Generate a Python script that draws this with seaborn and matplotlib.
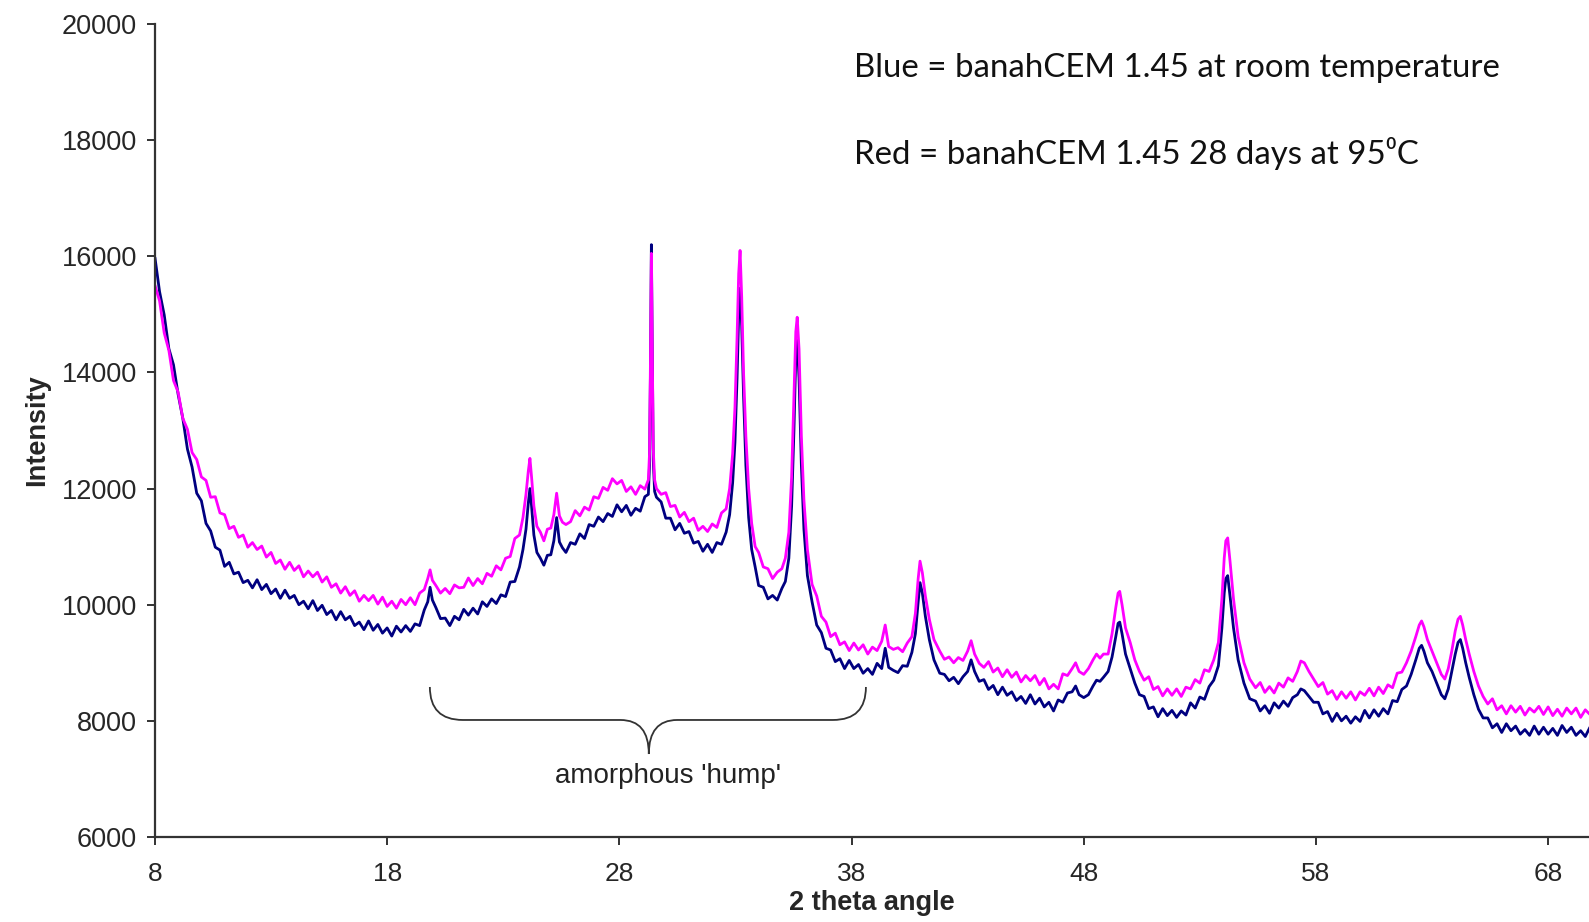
import pandas as pd
import seaborn as sns
import matplotlib.pyplot as plt
from matplotlib.path import Path
from matplotlib.patches import PathPatch

# 2 theta positions (degrees)
two_theta = [
    8.0, 8.2, 8.4, 8.6, 8.8, 9.0, 9.2, 9.4, 9.6, 9.8, 10.0, 10.2,
    10.4, 10.6, 10.8, 11.0, 11.2, 11.4, 11.6, 11.8, 12.0, 12.2, 12.4, 12.6,
    12.8, 13.0, 13.2, 13.4, 13.6, 13.8, 14.0, 14.2, 14.4, 14.6, 14.8, 15.0,
    15.2, 15.4, 15.6, 15.8, 16.0, 16.2, 16.4, 16.6, 16.8, 17.0, 17.2, 17.4,
    17.6, 17.8, 18.0, 18.2, 18.4, 18.6, 18.8, 19.0, 19.2, 19.4, 19.6,
    19.75, 19.85, 19.95, 20.1, 20.3, 20.5, 20.7, 20.9, 21.1,
    21.3, 21.5, 21.7, 21.9, 22.1, 22.3, 22.5, 22.7, 22.9, 23.1, 23.3, 23.5,
    23.7, 23.85, 23.98, 24.08, 24.15, 24.22, 24.32, 24.45, 24.6, 24.75, 24.9,
    25.05, 25.18, 25.3, 25.42, 25.55, 25.7,
    25.9, 26.1, 26.3, 26.5, 26.7, 26.9, 27.1, 27.3, 27.5, 27.7, 27.9, 28.1,
    28.3, 28.5, 28.7, 28.9, 29.1,
    29.25, 29.3, 29.34, 29.38, 29.42, 29.46, 29.52, 29.6,
    29.8, 30.0, 30.2, 30.4, 30.6, 30.8, 31.0, 31.2, 31.4, 31.6, 31.8, 32.0,
    32.2, 32.4,
    32.6, 32.75, 32.88, 32.98, 33.07, 33.14, 33.2, 33.27, 33.35, 33.45, 33.57,
    33.7, 33.85, 34.0, 34.2, 34.4, 34.6, 34.8, 35.0,
    35.15, 35.3, 35.42, 35.52, 35.6, 35.66, 35.74, 35.84, 35.95, 36.1, 36.3,
    36.5, 36.7, 36.9,
    37.1, 37.3, 37.5, 37.7, 37.9, 38.1, 38.3, 38.5, 38.7, 38.9, 39.1, 39.3,
    39.45, 39.6, 39.8,
    40.0, 40.2, 40.4, 40.6, 40.75, 40.87, 40.95, 41.05, 41.18, 41.35, 41.55, 41.8,
    42.0, 42.2, 42.4, 42.6, 42.8,
    43.0, 43.15, 43.3, 43.5,
    43.7, 43.9, 44.1, 44.3, 44.5, 44.7, 44.9, 45.1, 45.3, 45.5, 45.7, 45.9,
    46.1, 46.3, 46.5, 46.7, 46.9, 47.1, 47.3,
    47.5, 47.65, 47.8, 48.0, 48.2, 48.4, 48.55, 48.7, 48.85,
    49.05, 49.22, 49.38, 49.48, 49.55, 49.65, 49.8, 50.0, 50.2, 50.4,
    50.6, 50.8, 51.0, 51.2, 51.4, 51.6, 51.8, 52.0, 52.2, 52.4, 52.6, 52.8,
    53.0, 53.2, 53.4,
    53.6, 53.8, 53.95, 54.05, 54.12, 54.2, 54.3, 54.45, 54.65, 54.9, 55.15,
    55.4, 55.6, 55.8, 56.0, 56.2, 56.4, 56.6, 56.8, 57.0,
    57.2, 57.35, 57.5, 57.7, 57.9,
    58.1, 58.3, 58.5, 58.7, 58.9, 59.1, 59.3, 59.5, 59.7, 59.9, 60.1, 60.3,
    60.5, 60.7, 60.9, 61.1, 61.3, 61.5, 61.7,
    61.9, 62.1, 62.3, 62.45, 62.55, 62.65, 62.8, 63.0, 63.2, 63.4, 63.55, 63.7,
    63.85, 64.0, 64.12, 64.22, 64.32, 64.45, 64.6, 64.8, 65.0, 65.2,
    65.4, 65.6, 65.8, 66.0, 66.2, 66.4, 66.6, 66.8, 67.0, 67.2, 67.4, 67.6,
    67.8, 68.0, 68.2, 68.4, 68.6, 68.8, 69.0, 69.2, 69.4, 69.6, 69.8,
]

# banahCEM 1.45 at room temperature
blue_counts = [
    15980, 15390, 14990, 14410, 14130, 13620, 13210, 12680, 12370, 11920, 11790, 11400,
    11270, 10990, 10940, 10660, 10730, 10530, 10560, 10380, 10420, 10290, 10430, 10260,
    10350, 10190, 10270, 10110, 10250, 10110, 10160, 10000, 10060, 9930, 10070, 9900,
    9990, 9830, 9900, 9740, 9880, 9740, 9800, 9640, 9700, 9570, 9720, 9560,
    9660, 9510, 9600, 9460, 9630, 9530, 9640, 9540, 9670, 9640, 9910,
    10050, 10300, 10080, 9950, 9760, 9770, 9640, 9800, 9740,
    9920, 9820, 9940, 9840, 10050, 9970, 10100, 10020, 10170, 10140, 10390, 10400,
    10650, 10950, 11300, 11750, 12000, 11700, 11200, 10900, 10800, 10680, 10850,
    10860, 11100, 11500, 11080, 10980, 10900,
    11070, 11040, 11220, 11140, 11380, 11350, 11510, 11430, 11570, 11520, 11720, 11600,
    11710, 11540, 11660, 11610, 11860,
    11900, 12400, 14000, 16200, 14300, 12500, 11950, 11850,
    11770, 11490, 11490, 11290, 11400, 11230, 11260, 11060, 11090, 10920, 11040, 10900,
    11070, 11040,
    11250, 11550, 12100, 12800, 13900, 15000, 15450, 14800, 13600, 12400, 11500,
    10950, 10650, 10330, 10300, 10100, 10160, 10080, 10280,
    10400, 10800, 11700, 13000, 14300, 14550, 13900, 12400, 11300, 10500, 10050,
    9650, 9520, 9250,
    9220, 9020, 9070, 8900, 9040, 8900, 8970, 8820, 8900, 8800, 8990, 8900,
    9250, 8920, 8870,
    8830, 8950, 8940, 9180, 9500, 10050, 10380, 10200, 9800, 9400, 9050, 8820,
    8800, 8690, 8750, 8640, 8760,
    8850, 9050, 8850, 8680,
    8710, 8540, 8610, 8450, 8580, 8440, 8500, 8350, 8420, 8300, 8450, 8290,
    8390, 8240, 8320, 8170, 8360, 8320, 8480,
    8500, 8600, 8450, 8400, 8450, 8600, 8700, 8680, 8750,
    8850, 9100, 9450, 9680, 9700, 9500, 9150, 8900, 8650, 8450,
    8420, 8210, 8240, 8070, 8210, 8090, 8180, 8060, 8170, 8100, 8310, 8220,
    8410, 8370, 8590,
    8700, 8950, 9600, 10200, 10450, 10500, 10150, 9600, 9050, 8650, 8380,
    8340, 8170, 8260, 8130, 8310, 8220, 8340, 8250, 8400,
    8450, 8550, 8520, 8420, 8320,
    8320, 8120, 8160, 7990, 8130, 8000, 8080, 7960, 8070, 7990, 8180, 8050,
    8190, 8080, 8210, 8120, 8350, 8330, 8540,
    8600, 8800, 9050, 9250, 9300, 9200, 9000, 8850, 8650, 8450, 8380, 8550,
    8850, 9150, 9350, 9400, 9250, 9000, 8750, 8450, 8200, 8050,
    8050, 7880, 7950, 7800, 7950, 7830, 7910, 7770, 7850, 7750, 7910, 7770,
    7890, 7770, 7870, 7750, 7920, 7800, 7890, 7750, 7830, 7730, 7890,
]

# banahCEM 1.45 28 days at 95 C
red_counts = [
    15500, 15230, 14680, 14380, 13860, 13660, 13210, 13020, 12620, 12500, 12200, 12140,
    11850, 11860, 11580, 11550, 11310, 11350, 11160, 11200, 10990, 11070, 10950, 11010,
    10820, 10900, 10710, 10770, 10610, 10730, 10590, 10670, 10480, 10580, 10480, 10560,
    10390, 10480, 10300, 10360, 10200, 10310, 10160, 10240, 10060, 10160, 10070, 10160,
    10010, 10130, 9970, 10060, 9940, 10090, 10000, 10120, 10000, 10200, 10260,
    10450, 10600, 10420, 10330, 10200, 10280, 10190, 10340, 10290,
    10300, 10460, 10330, 10450, 10360, 10540, 10490, 10670, 10600, 10800, 10830, 11140,
    11200, 11500, 11900, 12300, 12520, 12200, 11700, 11350, 11250, 11100, 11300,
    11320, 11550, 11920, 11530, 11420, 11380,
    11430, 11620, 11530, 11680, 11630, 11860, 11830, 12020, 11970, 12170, 12080, 12140,
    11950, 12030, 11900, 12050, 11990,
    12150, 12600, 14200, 16050, 14400, 12700, 12150, 12000,
    11900, 11930, 11690, 11710, 11510, 11590, 11430, 11490, 11280, 11350, 11260, 11390,
    11330, 11580,
    11650, 12000, 12600, 13400, 14600, 15700, 16100, 15300, 14000, 12900, 12000,
    11400, 11000, 10900, 10650, 10620, 10450, 10560, 10620,
    10800, 11250, 12200, 13600, 14700, 14950, 14400, 12900, 11800, 10950, 10350,
    10150, 9800, 9700,
    9450, 9510, 9310, 9360, 9210, 9340, 9220, 9310, 9150, 9270, 9210, 9370,
    9650, 9280, 9230,
    9260, 9190, 9340, 9450, 9850, 10450, 10750, 10550, 10150, 9750, 9400, 9200,
    9060, 9100, 9000, 9090, 9040,
    9200, 9380, 9150, 8990,
    8920, 9020, 8840, 8910, 8760, 8880, 8750, 8840, 8670, 8780, 8690, 8780,
    8620, 8730, 8550, 8630, 8550, 8810, 8780,
    8900, 9000, 8850, 8800, 8900, 9050, 9150, 9080, 9150,
    9150, 9500, 9950, 10200, 10230, 10000, 9600, 9350, 9050, 8850,
    8700, 8760, 8540, 8590, 8430, 8550, 8440, 8550, 8420, 8580, 8550, 8710,
    8650, 8880, 8850,
    9050, 9350, 10100, 10800, 11100, 11150, 10750, 10100, 9450, 9000, 8720,
    8570, 8660, 8490, 8590, 8480, 8650, 8580, 8740, 8680,
    8850, 9030, 9000, 8850, 8720,
    8590, 8660, 8460, 8520, 8370, 8500, 8390, 8500, 8360, 8500, 8440, 8560,
    8430, 8580, 8470, 8620, 8570, 8820, 8840,
    9000, 9200, 9450, 9650, 9720, 9620, 9400, 9200, 9000, 8800, 8720, 8900,
    9200, 9550, 9750, 9800, 9650, 9400, 9150, 8850, 8600, 8420,
    8290, 8380, 8190, 8260, 8120, 8260, 8150, 8250, 8100, 8220, 8150, 8250,
    8110, 8240, 8090, 8200, 8080, 8220, 8120, 8220, 8060, 8190, 8110,
]

assert len(two_theta) == len(blue_counts) == len(red_counts)

x_ticks = [8, 18, 28, 38, 48, 58, 68]
y_ticks = [6000, 8000, 10000, 12000, 14000, 16000, 18000, 20000]

note_lines = ["Blue = banahCEM 1.45 at room temperature",
              "Red = banahCEM 1.45 28 days at 95\u2070C"]
hump_label = "amorphous 'hump'"

df = pd.DataFrame({"two_theta": two_theta, "blue": blue_counts, "red": red_counts})

sns.set_theme(style="white")
plt.rcParams["font.family"] = ["Liberation Sans", "DejaVu Sans"]

fig = plt.figure(figsize=(15.89, 9.22), dpi=100)
ax = fig.add_axes([0.0975, 0.0922, 0.9025, 0.8818])

sns.lineplot(data=df, x="two_theta", y="blue", color="#000080", lw=2.0,
             estimator=None, sort=False, ax=ax)
sns.lineplot(data=df, x="two_theta", y="red", color="#FF00FF", lw=2.0,
             estimator=None, sort=False, ax=ax)

ax.set_xlim(8, 69.76)
ax.set_ylim(6000, 20000)
ax.set_xticks(x_ticks)
ax.set_yticks(y_ticks)
ax.tick_params(axis="both", direction="out", length=6, width=1.3, color="#222222",
               left=True, bottom=True)
ax.tick_params(axis="y", labelsize=19.5, pad=7)
ax.tick_params(axis="x", labelsize=19, pad=12)
sns.despine(ax=ax)
for side in ["left", "bottom"]:
    ax.spines[side].set_color("#333333")
    ax.spines[side].set_linewidth(1.6)

ax.set_xlabel("2 theta angle", fontsize=19.5, fontweight="bold", labelpad=3)
ax.set_ylabel("Intensity", fontsize=19.5, fontweight="bold", labelpad=8)

# legend-like notes
for i, line in enumerate(note_lines):
    ax.text(38.1, 19250 - i * 1480, line, fontsize=23.8, va="center", ha="left",
            family=["Lato", "DejaVu Sans"], color="#111111")

# curly brace under the amorphous hump
xl, xr, xm = 19.84, 38.62, 29.27
y_end, y_bar, y_tip = 8583, 8015, 7429
dx_end, dx_mid = 1.42, 1.22
verts = [(xl, y_end), (xl, y_bar), (xl + dx_end, y_bar),
         (xm - dx_mid, y_bar),
         (xm, y_bar), (xm, y_tip),
         (xm, y_bar), (xm + dx_mid, y_bar),
         (xr - dx_end, y_bar),
         (xr, y_bar), (xr, y_end)]
codes = [Path.MOVETO, Path.CURVE3, Path.CURVE3,
         Path.LINETO,
         Path.CURVE3, Path.CURVE3,
         Path.CURVE3, Path.CURVE3,
         Path.LINETO,
         Path.CURVE3, Path.CURVE3]
ax.add_patch(PathPatch(Path(verts, codes), fill=False, edgecolor="#333333", lw=1.3))
ax.text(30.1, 7050, hump_label, fontsize=20, ha="center", va="center", color="#222222")

fig.savefig("out.png", dpi=100)
